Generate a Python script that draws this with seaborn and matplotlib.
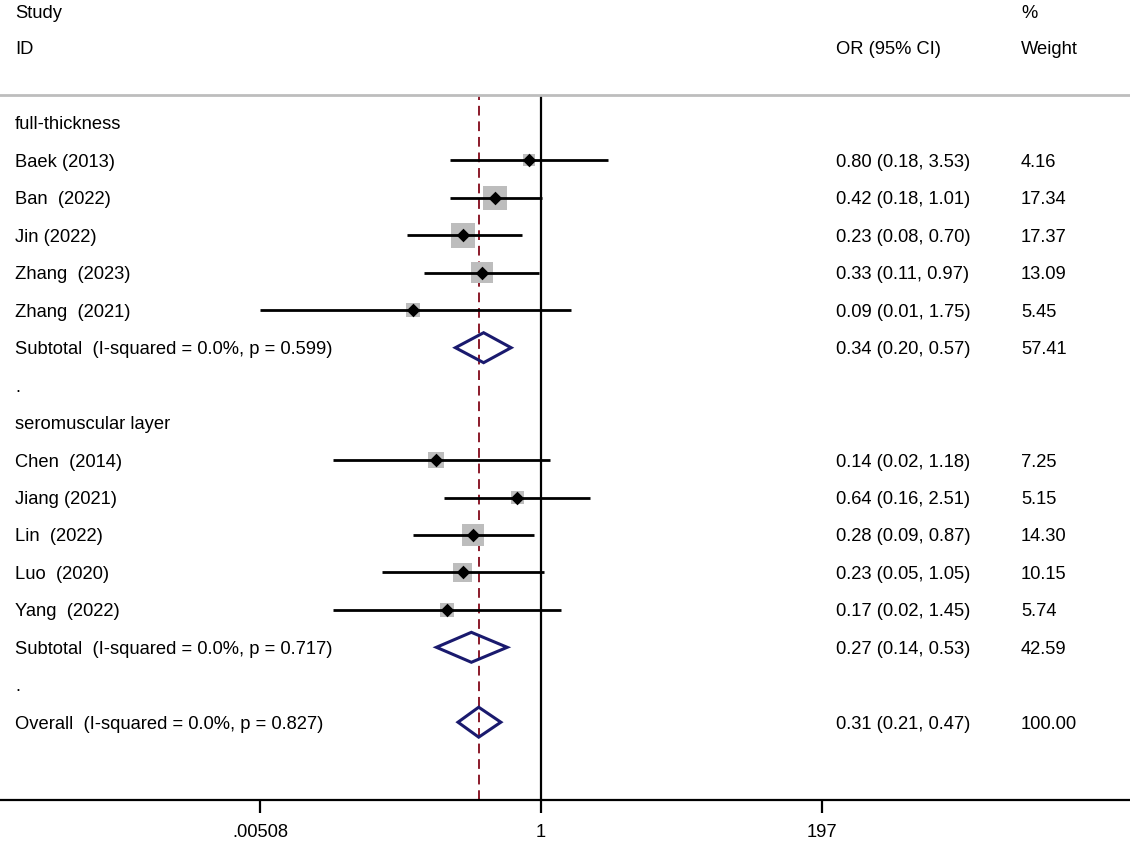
import numpy as np
import pandas as pd
import matplotlib
matplotlib.use("Agg")
from matplotlib import pyplot as plt
from matplotlib.patches import Polygon
import seaborn as sb

# Study data (odds ratios with 95% CI, % weight)
group1_names = ["Baek (2013)", "Ban  (2022)", "Jin (2022)", "Zhang  (2023)", "Zhang  (2021)"]
group1_or = [0.80, 0.42, 0.23, 0.33, 0.09]
group1_lo = [0.18, 0.18, 0.08, 0.11, 0.0051]
group1_hi = [3.53, 1.01, 0.70, 0.97, 1.75]
group1_w = [4.16, 17.34, 17.37, 13.09, 5.45]

group2_names = ["Chen  (2014)", "Jiang (2021)", "Lin  (2022)", "Luo  (2020)", "Yang  (2022)"]
group2_or = [0.14, 0.64, 0.28, 0.23, 0.17]
group2_lo = [0.02, 0.16, 0.09, 0.05, 0.02]
group2_hi = [1.18, 2.51, 0.87, 1.05, 1.45]
group2_w = [7.25, 5.15, 14.30, 10.15, 5.74]

# pooled estimates: label, or, lo, hi, weight
sub1 = ["Subtotal  (I-squared = 0.0%, p = 0.599)", 0.34, 0.20, 0.57, 57.41]
sub2 = ["Subtotal  (I-squared = 0.0%, p = 0.717)", 0.27, 0.14, 0.53, 42.59]
overall = ["Overall  (I-squared = 0.0%, p = 0.827)", 0.31, 0.21, 0.47, 100.00]

tick_vals = [0.00508, 1, 197]
tick_labels = [".00508", "1", "197"]

# build row layout
rows = []
rows.append(("head", "full-thickness", None, None, None, None))
for n, o, l, h, w in zip(group1_names, group1_or, group1_lo, group1_hi, group1_w):
    rows.append(("study", n, o, l, h, w))
rows.append(("pool", *sub1))
rows.append(("head", ".", None, None, None, None))
rows.append(("head", "seromuscular layer", None, None, None, None))
for n, o, l, h, w in zip(group2_names, group2_or, group2_lo, group2_hi, group2_w):
    rows.append(("study", n, o, l, h, w))
rows.append(("pool", *sub2))
rows.append(("head", ".", None, None, None, None))
rows.append(("pool", *overall))
df = pd.DataFrame(rows, columns=["kind", "label", "est", "lo", "hi", "w"])
df["row"] = np.arange(len(df))

sb.set_style("white")
plt.rcParams["font.family"] = ["Liberation Sans", "DejaVu Sans"]
plt.rcParams["text.color"] = "black"
plt.rcParams["xtick.color"] = "black"
plt.rcParams["xtick.labelcolor"] = "black"
FS = 13.2

fig = plt.figure(figsize=(11.3, 8.42), dpi=100)
W, H = 1130, 842
# axes spans from the gray rule (y=95 px) to the axis line (y=800 px)
ax = fig.add_axes([0, (H - 800) / H, 1, (800 - 95) / H])

px_per_ln = 281 / np.log(197)
ax.set_xscale("log")
ax.set_xlim(np.exp(-541 / px_per_ln), np.exp((W - 541) / px_per_ln))
row_px = 37.45
ax.set_ylim((800 - 123) / row_px, (95 - 123) / row_px)

# reference lines
ax.axvline(1, color="black", lw=1.6, zorder=1)
ax.axvline(overall[1], color="#8b1a2a", lw=1.4, ls=(0, (5, 3)), zorder=1)

studies = df[df.kind == "study"]
# weight boxes (area proportional to weight)
k = 18.0
sb.scatterplot(data=studies, x="est", y="row", size="w", sizes=(k * studies.w.min(), k * studies.w.max()),
               size_norm=(studies.w.min(), studies.w.max()), marker="s", color="#bdbdbd", linewidth=0,
               legend=False, ax=ax, zorder=2)
# CI lines
ax.hlines(studies.row, studies.lo, studies.hi, color="black", lw=2.0, zorder=3)
# point estimates
sb.scatterplot(data=studies, x="est", y="row", marker="D", s=48, color="black", linewidth=0,
               legend=False, ax=ax, zorder=4)

# pooled diamonds
for _, r in df[df.kind == "pool"].iterrows():
    dh = 0.4
    poly = Polygon([(r.lo, r.row), (r.est, r.row - dh), (r.hi, r.row), (r.est, r.row + dh)],
                   closed=True, fill=False, edgecolor="#1a1a6e", lw=2.2, zorder=4)
    ax.add_patch(poly)

# text columns (in pixel x positions)
trans = ax.get_yaxis_transform()
for _, r in df.iterrows():
    ax.text(15 / W, r.row, r.label, transform=trans, fontsize=FS, va="center_baseline", ha="left")
    if r.kind != "head":
        ax.text(836 / W, r.row, f"{r.est:.2f} ({r.lo:.2f}, {r.hi:.2f})", transform=trans,
                fontsize=FS, va="center_baseline", ha="left")
        ax.text(1021 / W, r.row, f"{r.w:.2f}", transform=trans, fontsize=FS, va="center_baseline", ha="left")

fig.text(15 / W, 1 - 12 / H, "Study", fontsize=FS, va="center_baseline", ha="left")
fig.text(15 / W, 1 - 48 / H, "ID", fontsize=FS, va="center_baseline", ha="left")
fig.text(836 / W, 1 - 48 / H, "OR (95% CI)", fontsize=FS, va="center_baseline", ha="left")
fig.text(1021 / W, 1 - 12 / H, "%", fontsize=FS, va="center_baseline", ha="left")
fig.text(1021 / W, 1 - 48 / H, "Weight", fontsize=FS, va="center_baseline", ha="left")

# axis styling
for s in ["left", "right"]:
    ax.spines[s].set_visible(False)
ax.spines["top"].set_color("#bdbdbd")
ax.spines["top"].set_linewidth(2.0)
ax.spines["bottom"].set_color("black")
ax.spines["bottom"].set_linewidth(1.6)
ax.set_yticks([])
ax.set_xticks(tick_vals)
ax.set_xticklabels(tick_labels)
ax.minorticks_off()
ax.tick_params(axis="x", direction="out", length=9, width=1.6, labelsize=FS, pad=8, bottom=True)
ax.set_xlabel("")
ax.set_ylabel("")

fig.savefig("out.png", dpi=100)
